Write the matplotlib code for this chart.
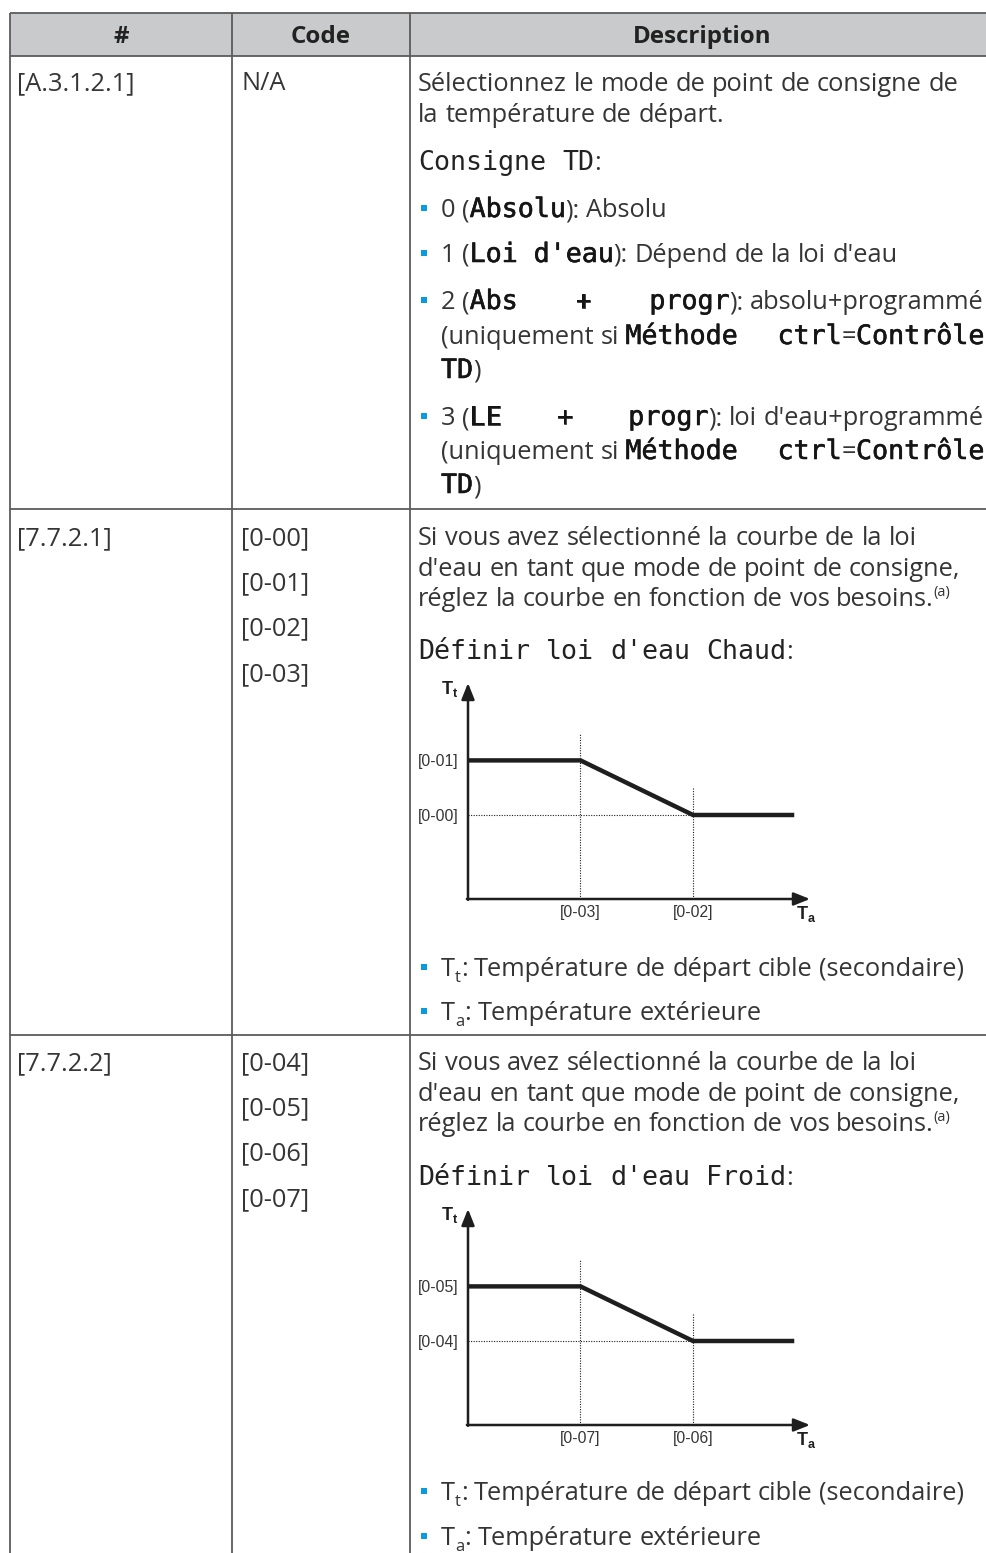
import matplotlib
matplotlib.use("Agg")
import matplotlib.pyplot as plt
import matplotlib.patheffects as pe
from matplotlib.patches import Rectangle

# ------------------------------------------------------------------ data
col_headers = ["#", "Code", "Description"]
row_ids = ["[A.3.1.2.1]", "[7.7.2.1]", "[7.7.2.2]"]
row_codes = [["N/A"],
             ["[0-00]", "[0-01]", "[0-02]", "[0-03]"],
             ["[0-04]", "[0-05]", "[0-06]", "[0-07]"]]

# weather-dependent curve (schematic units)
curve_ta = [0.0, 1.0, 2.0, 2.9]
curve_tt = [1.65, 1.65, 1.0, 1.0]
tick_ta = [1.0, 2.0]
tick_tt = [1.0, 1.65]
guide_top = [1.98, 1.32]
heat_xlabels = ["[0-03]", "[0-02]"]
heat_ylabels = ["[0-00]", "[0-01]"]
cool_xlabels = ["[0-07]", "[0-06]"]
cool_ylabels = ["[0-04]", "[0-05]"]

desc_row1 = [
    ("p", [("r", "Sélectionnez le mode de point de consigne de")]),
    ("p", [("r", "la température de départ.")]),
    ("p", [("m", "Consigne TD"), ("r", ":")]),
    ("b", [("r", "0 ("), ("mb", "Absolu"), ("r", "): Absolu")]),
    ("b", [("r", "1 ("), ("mb", "Loi d'eau"), ("r", "): Dépend de la loi d'eau")]),
    ("bj", [("r", "2 ("), ("mb", "Abs + progr"), ("r", "): absolu+programmé")]),
    ("cj", [("r", "(uniquement si "), ("mb", "Méthode ctrl"), ("r", "="), ("mb", "Contrôle")]),
    ("c", [("mb", "TD"), ("r", ")")]),
    ("bj", [("r", "3 ("), ("mb", "LE + progr"), ("r", "): loi d'eau+programmé")]),
    ("cj", [("r", "(uniquement si "), ("mb", "Méthode ctrl"), ("r", "="), ("mb", "Contrôle")]),
    ("c", [("mb", "TD"), ("r", ")")]),
]
desc_intro = [
    ("p", [("r", "Si vous avez sélectionné la courbe de la loi")]),
    ("p", [("r", "d'eau en tant que mode de point de consigne,")]),
    ("p", [("r", "réglez la courbe en fonction de vos besoins."), ("sup", "(a)")]),
]
desc_row2_title = [("p", [("m", "Définir loi d'eau Chaud"), ("r", ":")])]
desc_row3_title = [("p", [("m", "Définir loi d'eau Froid"), ("r", ":")])]
desc_legend = [
    ("b", [("r", "T"), ("sub", "t"), ("r", ": Température de départ cible (secondaire)")]),
    ("b", [("r", "T"), ("sub", "a"), ("r", ": Température extérieure")]),
]

# ------------------------------------------------------------------ layout
W, H, DPI = 987, 1553, 100
TXT = "#353535"
LINE = "#5c5c5c"
BULLET = "#0a9bdc"
FS = 18.3
STY = {
    "r": ("Open Sans", FS, "normal", 0, TXT),
    "m": ("DejaVu Sans Mono", 19.2, "normal", 0, "#222222"),
    "mb": ("DejaVu Sans Mono", 19.2, "normal", 0, "#151515"),
    "sup": ("Open Sans", 10.5, "normal", -10, TXT),
    "sub": ("Open Sans", 12, "normal", 6, TXT),
}
SEMIBOLD = [pe.withStroke(linewidth=0.4, foreground="#151515")]

fig = plt.figure(figsize=(W / DPI, H / DPI), dpi=DPI)
ax = fig.add_axes([0, 0, 1, 1])
ax.set_xlim(0, W)
ax.set_ylim(H, 0)
ax.axis("off")
renderer = fig.canvas.get_renderer()

_cache = {}


def mw(text, sty):
    key = (text, sty)
    if key not in _cache:
        fam, sz, wt, _, _ = STY[sty]
        t = ax.text(0, 0, text, fontfamily=fam, fontsize=sz, fontweight=wt)
        _cache[key] = t.get_window_extent(renderer).width
        t.remove()
    return _cache[key]


GAP = {"r": mw("n n", "r") - mw("nn", "r"), "m": mw("n n", "m") - mw("nn", "m")}


def tokens_of(pieces, justify):
    toks = []
    for sty, text in pieces:
        parts = text.split(" ")
        for i, p in enumerate(parts):
            if i > 0:
                if sty in ("m", "mb"):
                    toks.append(("gap", "flex" if justify else "m"))
                else:
                    toks.append(("gap", "r"))
            if p:
                toks.append(("run", p, sty))
    return toks


DESC_X, BUL_X, RIGHT = 418, 441, 984


def draw_line(kind, pieces, y):
    justify = kind.endswith("j")
    x = BUL_X if kind[0] in "bc" else DESC_X
    if kind[0] == "b":
        ax.add_patch(Rectangle((x - 20, y - 12), 6, 6, fc=BULLET, ec="none"))
    toks = tokens_of(pieces, justify)
    fixed = 0.0
    nflex = 0
    for t in toks:
        if t[0] == "run":
            fixed += mw(t[1], t[2])
        elif t[1] == "flex":
            nflex += 1
        else:
            fixed += GAP[t[1]]
    flex = (RIGHT - x - fixed) / nflex if (justify and nflex) else 0
    for t in toks:
        if t[0] == "gap":
            x += flex if t[1] == "flex" else GAP[t[1]]
            continue
        fam, sz, wt, dy, col = STY[t[2]]
        txt = ax.text(x, y + dy, t[1], fontfamily=fam, fontsize=sz, fontweight=wt,
                      color=col, va="baseline", ha="left")
        if t[2] == "mb":
            txt.set_path_effects(SEMIBOLD)
        x += mw(t[1], t[2])


def draw_block(lines, ys):
    for (kind, pieces), y in zip(lines, ys):
        draw_line(kind, pieces, y)


# table background + grid
ax.add_patch(Rectangle((10, 13), W - 10, 43, fc="#c9cacb", ec="none"))
for yy in [13, 56, 509, 1035]:
    ax.plot([10, W], [yy, yy], color=LINE, lw=1.3, solid_capstyle="butt")
for xx in [10, 232, 410]:
    ax.plot([xx, xx], [13, H], color=LINE, lw=1.3, solid_capstyle="butt")

# header
for label, cx in zip(col_headers, [121, 321, 702]):
    ax.text(cx, 43, label, fontfamily="Open Sans", fontsize=17.4, fontweight="bold",
            color="#222222", ha="center", va="baseline")

# id + code columns
row_base = [90, 545, 1070]
for rid, codes, yb in zip(row_ids, row_codes, row_base):
    ax.text(17, yb, rid, fontfamily="Open Sans", fontsize=FS, color=TXT, va="baseline")
    for i, c in enumerate(codes):
        ax.text(241, yb + i * 45.3, c, fontfamily="Open Sans", fontsize=FS,
                color=TXT, va="baseline")

# descriptions
draw_block(desc_row1, [91, 122, 170, 217, 262, 309, 344, 378, 425, 459, 493])
draw_block(desc_intro + desc_row2_title, [545, 576, 606, 659])
draw_block(desc_legend, [976, 1020])
draw_block(desc_intro + desc_row3_title, [1070, 1101, 1131, 1185])
draw_block(desc_legend, [1500, 1545])

# schematic charts
plt.rcParams["mathtext.fontset"] = "custom"
plt.rcParams["mathtext.bf"] = "Liberation Sans:bold"
plt.rcParams["mathtext.rm"] = "Liberation Sans"
DARK = "#1e1e1e"


def draw_chart(origin_y, xlabels, ylabels):
    ox, ux, uy = 468, 112.5, 84.0
    xl, yl = 342, 216
    c = fig.add_axes([ox / W, 1 - origin_y / H, xl / W, yl / H])
    xmax, ymax = xl / ux, yl / uy
    c.set_xlim(0, xmax)
    c.set_ylim(0, ymax)
    for s in c.spines.values():
        s.set_visible(False)
    c.patch.set_alpha(0)
    c.set_xticks(tick_ta, xlabels)
    c.set_yticks(tick_tt, ylabels)
    c.tick_params(axis="x", length=0, pad=4.5, labelsize=11.3, labelcolor=TXT)
    c.tick_params(axis="y", length=0, pad=7, labelsize=11.3, labelcolor=TXT)
    for lab in c.get_xticklabels() + c.get_yticklabels():
        lab.set_fontfamily("Liberation Sans")
    # dotted guides
    for xv, top in zip(tick_ta, guide_top):
        c.plot([xv, xv], [0, top], color=DARK, lw=0.8, ls=(0, (1, 1.3)), clip_on=False)
    c.plot([0, tick_ta[1]], [tick_tt[0], tick_tt[0]], color=DARK, lw=0.8,
           ls=(0, (1, 1.3)), clip_on=False)
    # curve
    c.plot(curve_ta, curve_tt, color=DARK, lw=3.2, solid_capstyle="butt",
           solid_joinstyle="miter", clip_on=False)
    # axes with arrows
    ap = dict(arrowstyle="-|>,head_length=0.7,head_width=0.28", color=DARK, lw=1.8,
              mutation_scale=14, shrinkA=0, shrinkB=0)
    c.annotate("", xy=(xmax, 0), xytext=(-0.01, 0), arrowprops=ap, annotation_clip=False)
    c.annotate("", xy=(0, ymax), xytext=(0, -0.01), arrowprops=ap, annotation_clip=False)
    c.text(-0.24, ymax - 6 / uy, r"$\mathbf{T}_\mathbf{t}$", fontsize=13, color=DARK,
           ha="left", va="center")
    c.text(xmax - 14 / ux, -15 / uy, r"$\mathbf{T}_\mathbf{a}$", fontsize=13,
           color=DARK, ha="left", va="center")


draw_chart(899, heat_xlabels, heat_ylabels)
draw_chart(1425, cool_xlabels, cool_ylabels)

fig.savefig("out.png", dpi=DPI)
